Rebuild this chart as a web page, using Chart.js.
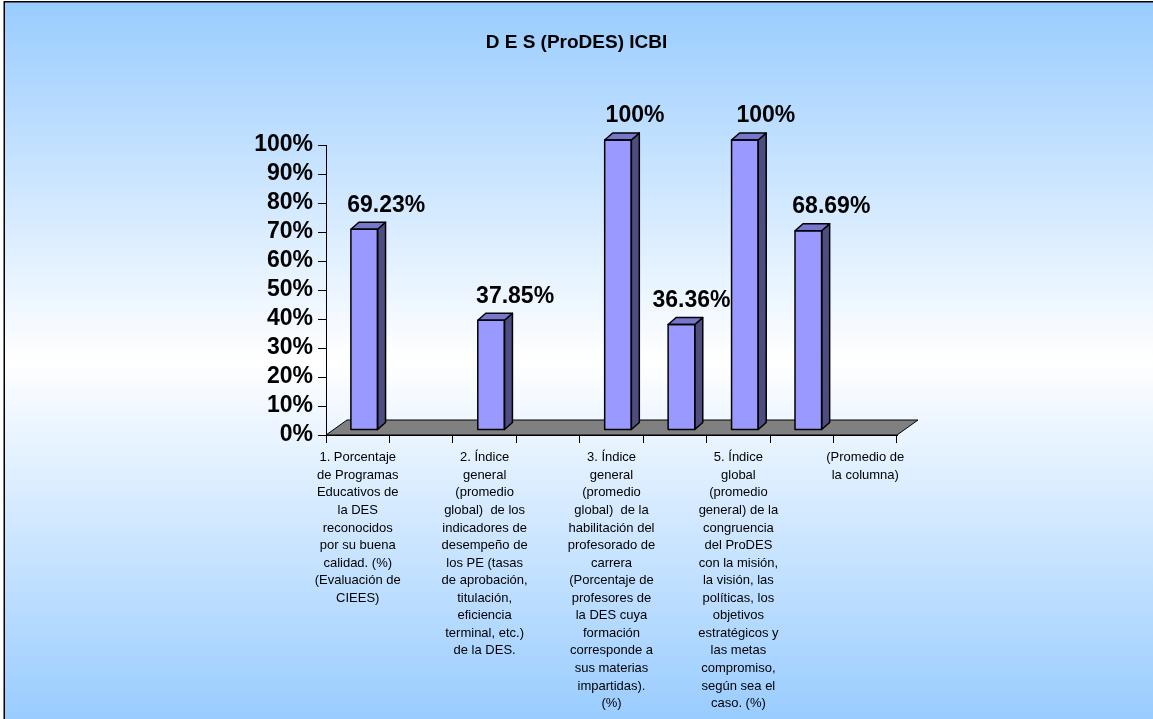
<!DOCTYPE html>
<html><head><meta charset="utf-8">
<script src="https://cdn.jsdelivr.net/npm/chart.js@4/dist/chart.umd.min.js"></script>
<style>html,body{margin:0;padding:0;background:#fff;overflow:hidden}</style>
</head><body>
<canvas id="c" width="1153" height="719"></canvas>
<script>
const chartTitle = 'D E S (ProDES) ICBI';
const categories = [
  ['1. Porcentaje','de Programas','Educativos de','la DES','reconocidos','por su buena','calidad. (%)','(Evaluación de','CIEES)'],
  '',
  ['2. Índice','general','(promedio','global)  de los','indicadores de','desempeño de','los PE (tasas','de aprobación,','titulación,','eficiencia','terminal, etc.)','de la DES.'],
  '',
  ['3. Índice','general','(promedio','global)  de la','habilitación del','profesorado de','carrera','(Porcentaje de','profesores de','la DES cuya','formación','corresponde a','sus materias','impartidas).','(%)'],
  '',
  ['5. Índice','global','(promedio','general) de la','congruencia','del ProDES','con la misión,','la visión, las','políticas, los','objetivos','estratégicos y','las metas','compromiso,','según sea el','caso. (%)'],
  '',
  ['(Promedio de','la columna)']
];
const values = [69.23, null, 37.85, null, 100, 36.36, 100, 68.69, null];
const valueLabels = ['69.23%', '', '37.85%', '', '100%', '36.36%', '100%', '68.69%', ''];
const yMin = 0, yMax = 100, yStep = 10;

const FONT = "'Liberation Sans', Arial, sans-serif";
const SHIFT_X = 6.5, SHIFT_Y = -5;       // depth placement of bars on the floor
const DEPTH_X = 8, DEPTH_Y = -7;         // bar 3D depth
const FLOOR_X = 21, FLOOR_Y = -15;       // floor depth
const LABEL_DX = [22, 0, 24, 0, 17, 10, 21, 23, 0];
const LABEL_DY = -24;

const bgPlugin = {
  id: 'bg',
  beforeDraw(chart) {
    const ctx = chart.ctx, W = chart.width, H = chart.height;
    ctx.save();
    ctx.fillStyle = '#ffffff';
    ctx.fillRect(0, 0, W, H);
    const g = ctx.createLinearGradient(0, 2, 0, H);
    g.addColorStop(0, '#99ccff');
    g.addColorStop(0.5, '#ffffff');
    g.addColorStop(1, '#99ccff');
    ctx.fillStyle = g;
    ctx.fillRect(4, 2, W, H);
    ctx.strokeStyle = '#000';
    ctx.lineWidth = 1.5;
    ctx.strokeRect(4.25, 1.75, W + 20, H + 20);
    // title, centred on the whole canvas
    ctx.font = 'bold 19px ' + FONT;
    ctx.fillStyle = '#000';
    ctx.textAlign = 'center';
    ctx.textBaseline = 'middle';
    ctx.fillText(chartTitle, W / 2, 43);
    ctx.restore();
  }
};

const bar3dPlugin = {
  id: 'bar3d',
  beforeDatasetsDraw(chart) {
    const ctx = chart.ctx, a = chart.chartArea;
    ctx.save();
    ctx.beginPath();
    ctx.moveTo(a.left, a.bottom);
    ctx.lineTo(a.right, a.bottom);
    ctx.lineTo(a.right + FLOOR_X, a.bottom + FLOOR_Y);
    ctx.lineTo(a.left + FLOOR_X, a.bottom + FLOOR_Y);
    ctx.closePath();
    ctx.fillStyle = '#808080';
    ctx.fill();
    ctx.strokeStyle = '#000';
    ctx.lineWidth = 1;
    ctx.stroke();
    ctx.restore();
    ctx.save();
    ctx.translate(SHIFT_X, SHIFT_Y);
  },
  afterDatasetsDraw(chart) {
    const ctx = chart.ctx;
    const meta = chart.getDatasetMeta(0);
    ctx.lineWidth = 1.5;
    ctx.strokeStyle = '#000';
    ctx.lineJoin = 'round';
    meta.data.forEach((el, i) => {
      if (values[i] === null || values[i] === undefined) return;
      const p = el.getProps(['x', 'y', 'base', 'width'], true);
      const l = p.x - p.width / 2, r = p.x + p.width / 2, t = p.y, b = p.base;
      ctx.beginPath();
      ctx.moveTo(r, t);
      ctx.lineTo(r + DEPTH_X, t + DEPTH_Y);
      ctx.lineTo(r + DEPTH_X, b + DEPTH_Y);
      ctx.lineTo(r, b);
      ctx.closePath();
      ctx.fillStyle = '#4d4d80';
      ctx.fill();
      ctx.stroke();
      ctx.beginPath();
      ctx.moveTo(l, t);
      ctx.lineTo(l + DEPTH_X, t + DEPTH_Y);
      ctx.lineTo(r + DEPTH_X, t + DEPTH_Y);
      ctx.lineTo(r, t);
      ctx.closePath();
      ctx.fillStyle = '#7777cc';
      ctx.fill();
      ctx.stroke();
      ctx.strokeRect(l, t, r - l, b - t);
    });
    ctx.restore();
    ctx.save();
    ctx.font = 'bold 23px ' + FONT;
    ctx.fillStyle = '#000';
    ctx.textAlign = 'center';
    ctx.textBaseline = 'middle';
    meta.data.forEach((el, i) => {
      if (values[i] === null || values[i] === undefined) return;
      const p = el.getProps(['x', 'y'], true);
      ctx.fillText(valueLabels[i], p.x + SHIFT_X + LABEL_DX[i], p.y + SHIFT_Y + LABEL_DY);
    });
    ctx.restore();
  }
};

new Chart(document.getElementById('c'), {
  type: 'bar',
  data: {
    labels: categories,
    datasets: [{
      data: values,
      backgroundColor: '#9999ff',
      borderColor: '#000',
      borderWidth: 0,
      borderSkipped: false,
      categoryPercentage: 1,
      barPercentage: 0.42,
      clip: false
    }]
  },
  options: {
    responsive: false,
    animation: false,
    devicePixelRatio: 1,
    layout: { padding: { left: 0, right: 256, top: 145, bottom: 0 } },
    plugins: {
      legend: { display: false },
      tooltip: { enabled: false },
      title: { display: false }
    },
    scales: {
      x: {
        afterFit(s) { s.height = 284; },
        grid: { display: true, drawOnChartArea: false, drawTicks: true, tickLength: 8, color: '#000', offset: true },
        border: { display: true, color: '#000', width: 1 },
        ticks: {
          autoSkip: false, maxRotation: 0, minRotation: 0, padding: 6,
          color: '#000',
          font: { family: FONT, size: 13, lineHeight: 1.35 }
        }
      },
      y: {
        min: yMin, max: yMax,
        afterFit(s) { s.width = 326; },
        grid: { display: true, drawOnChartArea: false, drawTicks: true, tickLength: 8, color: '#000' },
        border: { display: true, color: '#000', width: 1 },
        ticks: {
          stepSize: yStep, autoSkip: false, padding: 5, color: '#000',
          font: { family: FONT, size: 23, weight: 'bold', lineHeight: 1 },
          callback: v => v + '%'
        }
      }
    }
  },
  plugins: [bgPlugin, bar3dPlugin]
});
</script>
</body></html>
